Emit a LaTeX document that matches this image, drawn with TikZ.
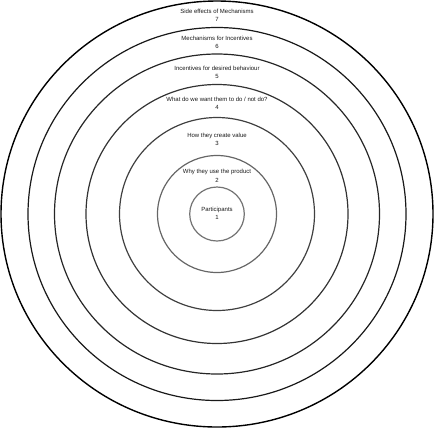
\documentclass[tikz,border=0pt]{standalone}
\usepackage{fontspec}
\setmainfont{Liberation Sans}
\begin{document}
\begin{tikzpicture}[x=1pt,y=-1pt,
  ring/.style={draw=black, line width=1.2pt},
  lbl/.style={align=center, font=\fontsize{6.0}{8.4}\selectfont, text=black!90, inner sep=0pt}]
\useasboundingbox (0,0) rectangle (435,429);
\coordinate (c) at (217,214);
\draw[ring, draw=black!55] (c) ellipse [x radius=27.3pt, y radius=27pt];
\draw[ring, draw=black!60] (c) ellipse [x radius=59.5pt, y radius=58.5pt];
\draw[ring, draw=black!75] (c) ellipse [x radius=97.5pt, y radius=96.5pt];
\draw[ring, draw=black!80] (c) ellipse [x radius=131pt, y radius=129.5pt];
\draw[ring, draw=black!85] (c) ellipse [x radius=162.5pt, y radius=160pt];
\draw[ring, draw=black!90] (c) ellipse [x radius=189pt, y radius=186.5pt];
\draw[ring, line width=1.4pt] (c) ellipse [x radius=216pt, y radius=213pt];
\node[lbl] (l7) at (217,15.5) {Side effects of Mechanisms\\7};
\node[lbl] (l6) at (217,42.5) {Mechanisms for Incentives\\6};
\node[lbl] (l5) at (217,72.5) {Incentives for desired behaviour\\5};
\node[lbl] (l4) at (217,103.5) {What do we want them to do / not do?\\4};
\node[lbl] (l3) at (217,139.5) {How they create value\\3};
\node[lbl] (l2) at (217,176) {Why they use the product\\2};
\node[lbl] (l1) at (217,213.5) {Participants\\1};
\end{tikzpicture}
\end{document}
